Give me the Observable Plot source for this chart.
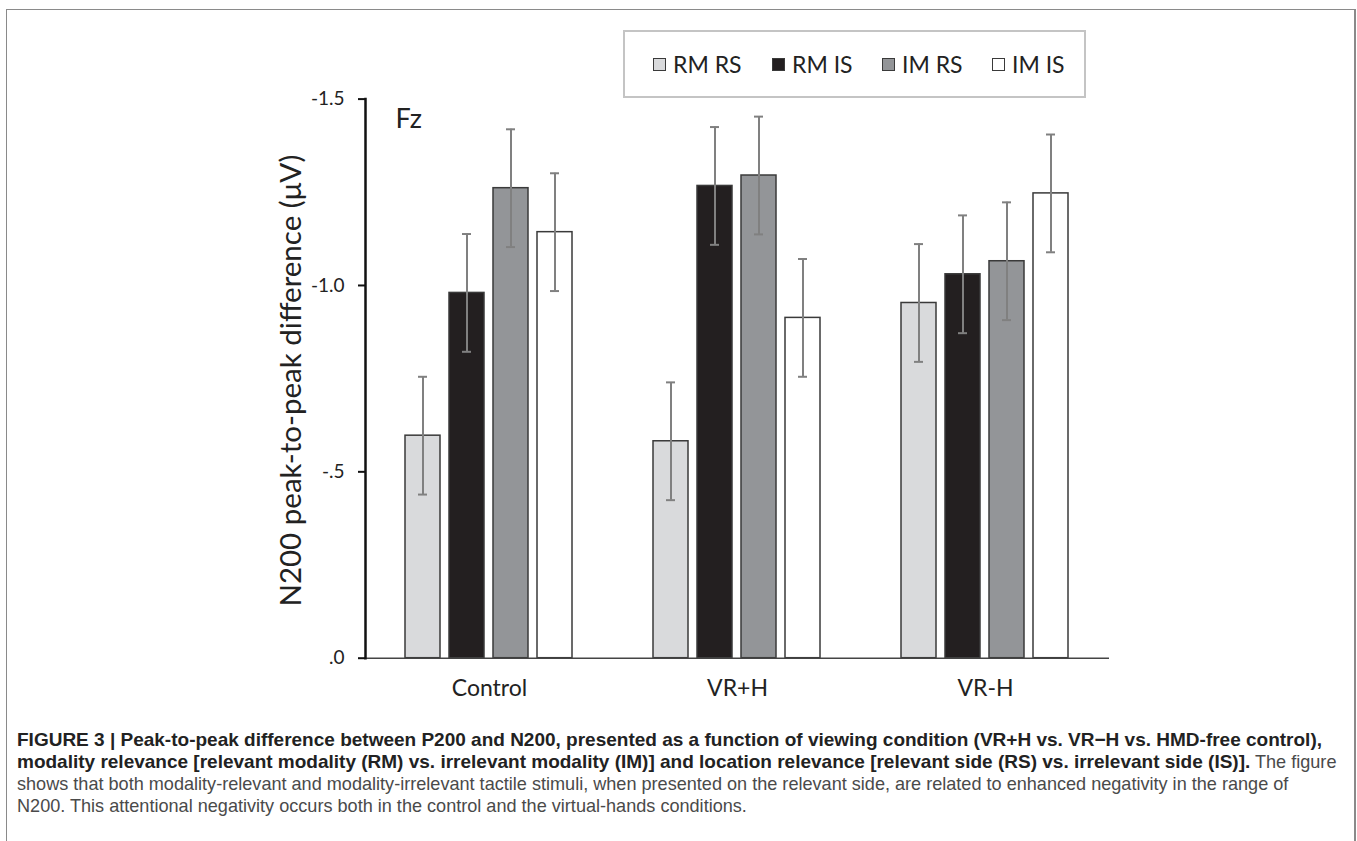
<!DOCTYPE html>
<html>
<head>
<meta charset="utf-8">
<script src="https://cdn.jsdelivr.net/npm/d3@7"></script>
<script src="https://cdn.jsdelivr.net/npm/@observablehq/plot@0.6"></script>
<style>
  html, body { margin: 0; padding: 0; background: #fff; }
  #wrap { position: relative; width: 1357px; height: 841px; overflow: hidden; }
  #frame { position: absolute; left: 6px; top: 9px; width: 1347px; height: 900px; border: 1px solid #8a8a8a; border-right-width: 2px; }
  #chart { position: absolute; left: 0; top: 0; }
  #legend { position: absolute; left: 623px; top: 30px; width: 459px; height: 64px; border: 2px solid #c4c4c4; box-sizing: content-box;
            font-family: Lato, "Open Sans", sans-serif; font-size: 23px; color: #222; }
  .item { position: absolute; top: 0; height: 64px; display: flex; align-items: center; }
  .sw { width: 11px; height: 11px; border: 1.5px solid #3a3a3a; margin-right: 7px; }
  #caption { position: absolute; left: 17px; top: 729px; width: 1335px; font-family: "Liberation Sans", Arial, sans-serif;
             font-size: 18.1px; line-height: 22px; color: #4a4a4a; white-space: nowrap; }
  #caption b { color: #222; font-size: 19px; }
</style>
</head>
<body>
<div id="wrap">
  <div id="frame"></div>
  <div id="chart"></div>
  <div id="legend"></div>
  <div id="caption"></div>
</div>
<script>
// ---- data ----
const conditions = ["Control", "VR+H", "VR-H"];
const series = ["RM RS", "RM IS", "IM RS", "IM IS"];
const rmRS = [-0.597, -0.582, -0.953];
const rmIS = [-0.980, -1.267, -1.030];
const imRS = [-1.261, -1.295, -1.065];
const imIS = [-1.143, -0.913, -1.247];
const rmRSErr = [0.158, 0.158, 0.158];
const rmISErr = [0.158, 0.158, 0.158];
const imRSErr = [0.158, 0.158, 0.158];
const imISErr = [0.158, 0.158, 0.158];
const yTicks = [0, -0.5, -1.0, -1.5];
const seriesFills = ["#d9dadc", "#231f20", "#939598", "#ffffff"];
const yLabel = "N200 peak-to-peak difference (μV)";
const panelLabel = "Fz";

const seriesValues = [rmRS, rmIS, imRS, imIS];
const seriesErrs = [rmRSErr, rmISErr, imRSErr, imISErr];
const rows = [];
conditions.forEach((c, ci) => series.forEach((s, si) => {
  rows.push({cond: c, series: s, value: seriesValues[si][ci], err: seriesErrs[si][ci]});
}));

const fmt = d => d.toFixed(1).replace(/^(-?)0\./, "$1.");
const anchor = [{cond: conditions[0]}];

const chart = Plot.plot({
  width: 1357,
  height: 720,
  marginLeft: 364,
  marginRight: 247,
  marginTop: 98.6,
  marginBottom: 62.3,
  style: {fontFamily: "Lato, 'Open Sans', sans-serif", color: "#222", background: "transparent"},
  fx: {domain: conditions, padding: 0},
  x: {domain: series, paddingInner: 0.2, paddingOuter: 0.861, axis: null},
  y: {domain: [0, -1.5]},
  color: {domain: series, range: seriesFills},
  marks: [
    Plot.barY(rows, {fx: "cond", x: "series", y: "value", fill: "series", stroke: "#3a3a3a", strokeWidth: 1.5}),
    Plot.ruleX(rows, {fx: "cond", x: "series", y1: d => d.value - d.err, y2: d => d.value + d.err, stroke: "#808080", strokeWidth: 2}),
    Plot.tickY(rows, {fx: "cond", x: "series", y: d => d.value - d.err, stroke: "#808080", strokeWidth: 2, insetLeft: 13, insetRight: 13}),
    Plot.tickY(rows, {fx: "cond", x: "series", y: d => d.value + d.err, stroke: "#808080", strokeWidth: 2, insetLeft: 13, insetRight: 13}),
    Plot.ruleY([0], {stroke: "#444", strokeWidth: 1.5}),
    Plot.frame({anchor: "left", facetAnchor: "left", stroke: "#111", strokeWidth: 2.5}),
    Plot.axisY({ticks: yTicks, tickFormat: fmt, tickSize: 7, tickPadding: 14, fontSize: 19, strokeWidth: 2, stroke: "#111", label: null}),
    Plot.axisFx({anchor: "bottom", tickSize: 0, tickPadding: 21, fontSize: 23, label: null}),
    Plot.text(anchor, {fx: "cond", text: () => yLabel, frameAnchor: "left", rotate: -90, dx: -74, dy: 2, textAnchor: "middle", fontSize: 29.5}),
    Plot.text(anchor, {fx: "cond", text: () => panelLabel, frameAnchor: "top-left", dx: 30, dy: 10, fontSize: 27})
  ]
});
document.getElementById("chart").appendChild(chart);

// legend
const legend = document.getElementById("legend");
const itemX = [28, 147, 257, 367];
series.forEach((s, i) => {
  const it = document.createElement("div");
  it.className = "item";
  it.style.left = itemX[i] + "px";
  const sw = document.createElement("div");
  sw.className = "sw";
  sw.style.background = seriesFills[i];
  const tx = document.createElement("span");
  tx.textContent = s;
  it.appendChild(sw); it.appendChild(tx);
  legend.appendChild(it);
});

// caption
document.getElementById("caption").innerHTML =
  "<b>FIGURE 3 | Peak-to-peak difference between P200 and N200, presented as a function of viewing condition (VR+H vs. VR−H vs. HMD-free control),</b><br>" +
  "<b>modality relevance [relevant modality (RM) vs. irrelevant modality (IM)] and location relevance [relevant side (RS) vs. irrelevant side (IS)].</b> The figure<br>" +
  "shows that both modality-relevant and modality-irrelevant tactile stimuli, when presented on the relevant side, are related to enhanced negativity in the range of<br>" +
  "N200. This attentional negativity occurs both in the control and the virtual-hands conditions.";
</script>
</body>
</html>
